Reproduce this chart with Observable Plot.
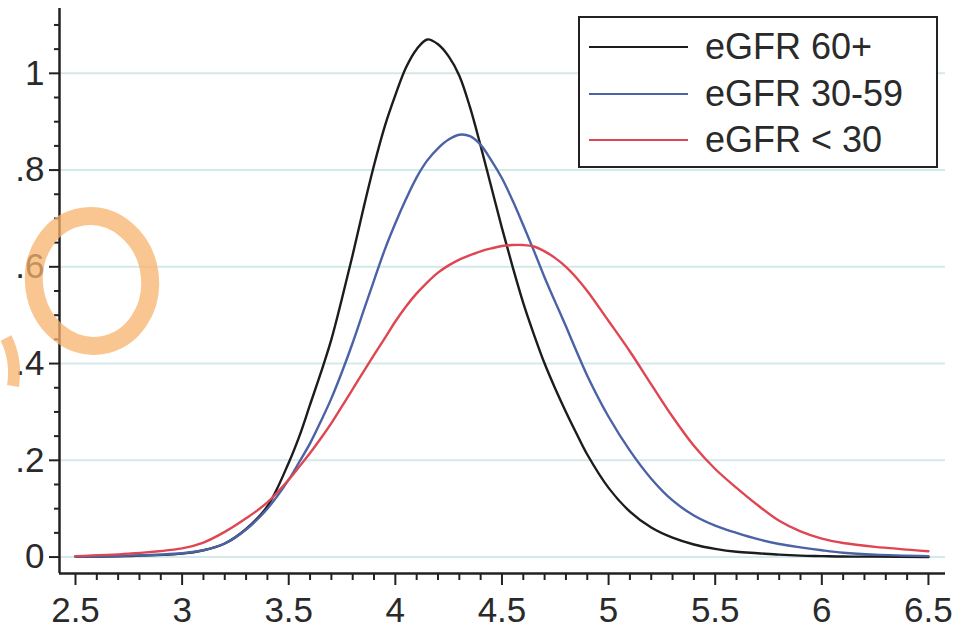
<!DOCTYPE html>
<html>
<head>
<meta charset="utf-8">
<script src="https://cdn.jsdelivr.net/npm/d3@7"></script>
<script src="https://cdn.jsdelivr.net/npm/@observablehq/plot@0.6"></script>
<style>
  body { margin: 0; background: #fff; }
  #wrap { position: relative; width: 961px; height: 630px; overflow: hidden;
          font-family: "Liberation Sans", Arial, sans-serif; background: #fff; }
  #legend { position: absolute; left: 578px; top: 16px; width: 356px; height: 148px;
            border: 2px solid #222; background: #fff; }
  .row { position: absolute; left: 0; height: 46px; display: flex; align-items: center; }
  .swatch { display: inline-block; width: 99px; height: 2px; margin-left: 9px; }
  .lab { margin-left: 17px; font-size: 36px; line-height: 1; color: #2a2a2a; white-space: nowrap; }
  #annot { position: absolute; left: 0; top: 0; pointer-events: none; }
</style>
</head>
<body>
<div id="wrap"></div>
<script>
// ---- data ----
const seriesNames  = ["eGFR 60+", "eGFR 30-59", "eGFR < 30"];
const seriesColors = ["#1c1c1c", "#4b63a6", "#de4652"];

const xValues = [2.5, 2.75, 3.0, 3.1, 3.2, 3.3, 3.4, 3.5, 3.55, 3.6, 3.65, 3.7, 3.75, 3.8, 3.85, 3.9, 3.95,
  4.0, 4.05, 4.1, 4.15, 4.2, 4.25, 4.3, 4.35, 4.4, 4.45, 4.5, 4.55, 4.6, 4.65, 4.7, 4.75, 4.8, 4.85, 4.9,
  5.0, 5.1, 5.2, 5.3, 5.4, 5.5, 5.6, 5.7, 5.8, 5.9, 6.0, 6.1, 6.25, 6.5];

const egfr60 = [0.001, 0.002, 0.007, 0.014, 0.028, 0.058, 0.105, 0.195, 0.25, 0.315, 0.38, 0.45, 0.535, 0.625, 0.72, 0.81, 0.89,
  0.955, 1.012, 1.05, 1.07, 1.06, 1.035, 0.995, 0.93, 0.85, 0.765, 0.68, 0.60, 0.525, 0.46, 0.40, 0.348, 0.30, 0.255, 0.212,
  0.143, 0.094, 0.061, 0.04, 0.026, 0.017, 0.011, 0.008, 0.005, 0.003, 0.002, 0.001, 0.001, 0.0];

const egfr3059 = [0.001, 0.003, 0.008, 0.014, 0.028, 0.057, 0.10, 0.16, 0.197, 0.235, 0.28, 0.328, 0.383, 0.443, 0.508, 0.572, 0.635,
  0.69, 0.74, 0.785, 0.82, 0.845, 0.863, 0.873, 0.870, 0.852, 0.82, 0.783, 0.737, 0.686, 0.633, 0.578, 0.527, 0.477, 0.425, 0.375,
  0.29, 0.22, 0.162, 0.117, 0.086, 0.065, 0.05, 0.037, 0.027, 0.02, 0.014, 0.009, 0.005, 0.002];

const egfr30 = [0.002, 0.007, 0.018, 0.03, 0.052, 0.08, 0.113, 0.16, 0.187, 0.215, 0.245, 0.277, 0.312, 0.347, 0.383, 0.418, 0.452,
  0.487, 0.518, 0.545, 0.568, 0.588, 0.603, 0.615, 0.624, 0.632, 0.638, 0.643, 0.645, 0.645, 0.642, 0.632, 0.618, 0.6, 0.577, 0.55,
  0.488, 0.425, 0.357, 0.29, 0.23, 0.182, 0.143, 0.107, 0.075, 0.053, 0.038, 0.029, 0.021, 0.012];

const xTickValues = [2.5, 3, 3.5, 4, 4.5, 5, 5.5, 6, 6.5];
const xTickLabels = ["2.5", "3", "3.5", "4", "4.5", "5", "5.5", "6", "6.5"];
const xMinorTicks = [2.6, 2.7, 2.8, 2.9, 3.1, 3.2, 3.3, 3.4, 3.6, 3.7, 3.8, 3.9, 4.1, 4.2, 4.3, 4.4,
  4.6, 4.7, 4.8, 4.9, 5.1, 5.2, 5.3, 5.4, 5.6, 5.7, 5.8, 5.9, 6.1, 6.2, 6.3, 6.4];
const yTickValues = [0, 0.2, 0.4, 0.6, 0.8, 1];
const yTickLabels = ["0", ".2", ".4", ".6", ".8", "1"];
const yMinorTicks = [0.05, 0.1, 0.15, 0.25, 0.3, 0.35, 0.45, 0.5, 0.55, 0.65, 0.7, 0.75, 0.85, 0.9, 0.95, 1.05, 1.1];

const xDomain = [2.425, 6.58];
const yDomain = [-0.034, 1.134];

// ---- build table ----
const seriesValues = [egfr60, egfr3059, egfr30];
const data = [];
seriesNames.forEach((name, s) => {
  xValues.forEach((x, i) => data.push({series: name, x, y: seriesValues[s][i]}));
});

const axisColor = "#222";
const chart = Plot.plot({
  width: 961,
  height: 630,
  marginLeft: 59,
  marginRight: 16,
  marginTop: 8,
  marginBottom: 57,
  style: {fontFamily: "'Liberation Sans', Arial, sans-serif", fontSize: "35px", color: "#2a2a2a", background: "white"},
  x: {domain: xDomain},
  y: {domain: yDomain},
  color: {domain: seriesNames, range: seriesColors},
  marks: [
    Plot.gridY(yTickValues, {stroke: "#d3e9ea", strokeOpacity: 1, strokeWidth: 2}),
    Plot.line(data, {x: "x", y: "y", z: "series", stroke: "series", strokeWidth: 2.4, curve: "catmull-rom"}),
    Plot.axisX(xMinorTicks, {tickSize: 7, tickFormat: () => "", label: null, stroke: axisColor, strokeWidth: 2}),
    Plot.axisX(xTickValues, {tickSize: 12, tickPadding: 12, tickFormat: (d, i) => xTickLabels[i], label: null,
      stroke: axisColor, strokeWidth: 2, fontSize: 35}),
    Plot.axisY(yMinorTicks, {tickSize: 5, tickFormat: () => "", label: null, stroke: axisColor, strokeWidth: 2}),
    Plot.axisY(yTickValues, {tickSize: 10, tickPadding: 5, tickFormat: (d, i) => yTickLabels[i], label: null,
      stroke: axisColor, strokeWidth: 2, fontSize: 35}),
    Plot.ruleX([xDomain[0]], {stroke: axisColor, strokeWidth: 2.5}),
    Plot.ruleY([yDomain[0]], {stroke: axisColor, strokeWidth: 2.5})
  ]
});

const wrap = document.getElementById("wrap");
wrap.appendChild(chart);

// ---- legend (HTML overlay inside the plot area) ----
const legend = document.createElement("div");
legend.id = "legend";
seriesNames.forEach((name, i) => {
  const row = document.createElement("div");
  row.className = "row";
  row.style.top = Math.round(6 + i * 46.5) + "px";
  const sw = document.createElement("span");
  sw.className = "swatch";
  sw.style.background = seriesColors[i];
  const lab = document.createElement("span");
  lab.className = "lab";
  lab.textContent = name;
  row.appendChild(sw);
  row.appendChild(lab);
  legend.appendChild(row);
});
wrap.appendChild(legend);

// ---- hand-drawn orange annotation circle ----
const ns = "http://www.w3.org/2000/svg";
const annot = document.createElementNS(ns, "svg");
annot.setAttribute("id", "annot");
annot.setAttribute("width", 961);
annot.setAttribute("height", 630);
const ell = document.createElementNS(ns, "ellipse");
ell.setAttribute("cx", 92); ell.setAttribute("cy", 281);
ell.setAttribute("rx", 58); ell.setAttribute("ry", 65);
ell.setAttribute("transform", "rotate(-8 92 281)");
ell.setAttribute("fill", "none");
ell.setAttribute("stroke", "#f7b36c");
ell.setAttribute("stroke-opacity", "0.75");
ell.setAttribute("stroke-width", "18");
annot.appendChild(ell);
const arc = document.createElementNS(ns, "path");
arc.setAttribute("d", "M 6 338 Q 17 360 13 386");
arc.setAttribute("fill", "none");
arc.setAttribute("stroke", "#f7b36c");
arc.setAttribute("stroke-opacity", "0.75");
arc.setAttribute("stroke-width", "12");
annot.appendChild(arc);
wrap.appendChild(annot);
</script>
</body>
</html>
